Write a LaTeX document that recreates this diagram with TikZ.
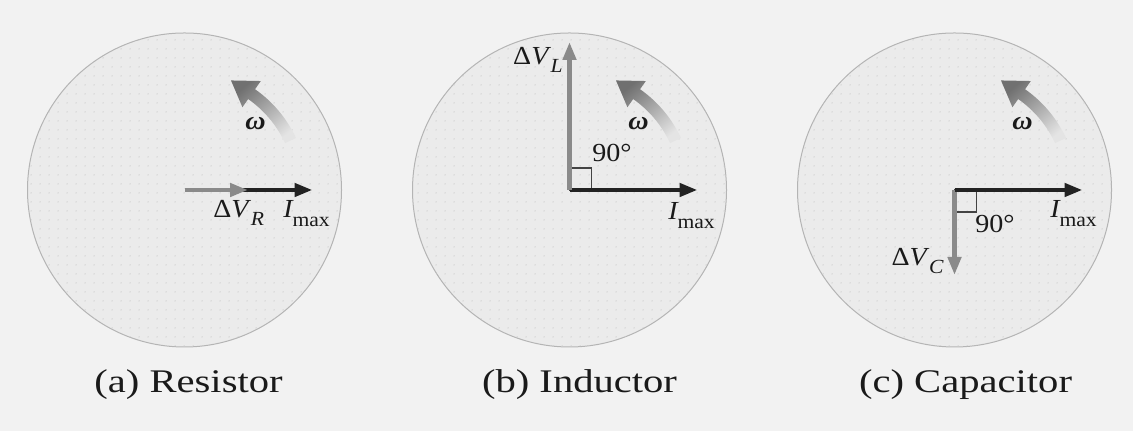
\documentclass[tikz,border=0pt]{standalone}
\usepackage{fontspec}
\setmainfont{Liberation Serif}
\newfontfamily\capfont[FakeStretch=1.23]{Liberation Serif}
\newfontfamily\labfont[FakeStretch=1.08]{Liberation Serif}
\usetikzlibrary{arrows.meta,patterns.meta}
\definecolor{bgc}{HTML}{F2F2F2}
\definecolor{discfill}{HTML}{EBEBEB}
\definecolor{discline}{HTML}{B4B4B4}
\definecolor{dotc}{HTML}{CDCDCD}
\definecolor{icol}{HTML}{222222}
\definecolor{vcol}{HTML}{8A8A8A}
\definecolor{txt}{HTML}{1A1A1A}
\definecolor{wdark}{HTML}{707070}
\definecolor{wlight}{HTML}{E4E4E4}
\tikzdeclarepattern{
  name=fdots,
  type=uncolored,
  bounding box={(0pt,0pt) and (4.5pt,4.5pt)},
  tile size={(4.5pt,4.5pt)},
  code={\fill (2.25pt,2.25pt) circle (0.4pt);}
}
\newcommand{\dvlab}[1]{\textup{Δ}\textit{V}\kern-0.02em\raisebox{-0.3em}{\fontsize{10}{10}\selectfont\textit{#1}}}
\newcommand{\imaxlab}{\textit{I}\kern-0.05em\raisebox{-0.32em}{\fontsize{10}{10}\selectfont max}}
\newcommand{\omlab}{\textbf{\textit{ω}}}
\tikzset{
  disc/.style={fill=discfill, draw=discline, line width=0.5pt},
  dotpat/.style={pattern={fdots}, pattern color=dotc},
  iarrow/.style={draw=icol, line width=2.2pt, -{Triangle[length=9pt,width=6.5pt]}},
  varrow/.style={draw=vcol, line width=2.2pt, -{Triangle[length=9pt,width=6.5pt]}},
  lab/.style={inner sep=0pt, text=txt, font=\labfont\fontsize{13}{13}\selectfont},
  captxt/.style={inner sep=0pt, text=txt, font=\capfont\fontsize{16.5}{16.5}\selectfont},
  sqbox/.style={draw=icol!85, line width=0.7pt},
  omshade/.style={top color=wdark, bottom color=wlight, shading angle=41},
}
\newcommand{\omegaarrow}{%
  \shade[omshade] (25:111) arc[start angle=25, end angle=55, radius=111]
    -- (55:101) -- (67:119) -- (55:133) -- (55:123)
    arc[start angle=55, end angle=25, radius=123] -- cycle;}
\begin{document}
\begin{tikzpicture}[x=0.5pt, y=0.5pt]
\fill[bgc] (0,0) rectangle (1133,431);
\useasboundingbox (0,0) rectangle (1133,431);

% ---------- (a) Resistor ----------
\coordinate (Oa) at (184.5,241);
\path[disc] (Oa) circle[radius=157];
\fill[dotpat] (Oa) circle[radius=157];
\begin{scope}[shift={(Oa)}]\omegaarrow\end{scope}
\coordinate (Ia) at (312.5,241);
\coordinate (Va) at (248,241);
\draw[iarrow] (Oa) -- (Ia);
\draw[varrow] (Oa) -- (Va);
\node[lab, anchor=base west] (lva) at (213,213) {\dvlab{R}};
\node[lab, anchor=base west] (lia) at (283,213) {\imaxlab};
\node[lab, anchor=base west] (lwa) at (245,301) {\omlab};
\node[captxt, anchor=base] (capa) at (188.5,38) {(a) Resistor};

% ---------- (b) Inductor ----------
\coordinate (Ob) at (569.5,241);
\path[disc] (Ob) circle[radius=157];
\fill[dotpat] (Ob) circle[radius=157];
\begin{scope}[shift={(Ob)}]\omegaarrow\end{scope}
\coordinate (Ib) at (697.5,241);
\coordinate (Vb) at (569.5,389);
\draw[sqbox] (Ob) rectangle ++(22,22);
\draw[iarrow] (Ob) -- (Ib);
\draw[varrow] (Ob) -- (Vb);
\node[lab, anchor=base east] (lvb) at (563,366) {\dvlab{L}};
\node[lab, anchor=base west] (lib) at (668,211) {\imaxlab};
\node[lab, anchor=base west] (lwb) at (628,301) {\omlab};
\node[lab, anchor=base west] (ab) at (592,269) {90°};
\node[captxt, anchor=base] (capb) at (579.5,38) {(b) Inductor};

% ---------- (c) Capacitor ----------
\coordinate (Oc) at (954.5,241);
\path[disc] (Oc) circle[radius=157];
\fill[dotpat] (Oc) circle[radius=157];
\begin{scope}[shift={(Oc)}]\omegaarrow\end{scope}
\coordinate (Ic) at (1082.5,241);
\coordinate (Vc) at (954.5,156);
\draw[sqbox] (Oc) rectangle ++(22,-22);
\draw[varrow] (Oc) -- (Vc);
\draw[iarrow] (Oc) -- (Ic);
\node[lab, anchor=base east] (lvc) at (944,165) {\dvlab{C}};
\node[lab, anchor=base west] (lic) at (1050,213) {\imaxlab};
\node[lab, anchor=base west] (lwc) at (1012,301) {\omlab};
\node[lab, anchor=base west] (ac) at (975,198) {90°};
\node[captxt, anchor=base] (capc) at (965.5,38) {(c) Capacitor};
\end{tikzpicture}
\end{document}
